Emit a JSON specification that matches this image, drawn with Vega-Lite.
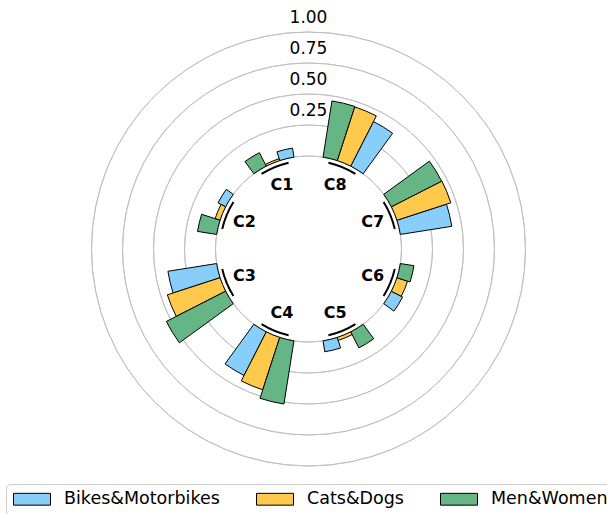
{
  "$schema": "https://vega.github.io/schema/vega-lite/v6.json",
  "width": 617,
  "height": 498,
  "autosize": "none",
  "padding": {"left": 0, "top": 0, "right": 0, "bottom": 16},
  "background": "white",
  "datasets": {
    "bars": [
      {"category": "C1", "series": "Bikes&Motorbikes", "value": 0.074},
      {"category": "C1", "series": "Cats&Dogs", "value": 0.016},
      {"category": "C1", "series": "Men&Women", "value": 0.122},
      {"category": "C2", "series": "Bikes&Motorbikes", "value": 0.069},
      {"category": "C2", "series": "Cats&Dogs", "value": 0.042},
      {"category": "C2", "series": "Men&Women", "value": 0.156},
      {"category": "C3", "series": "Bikes&Motorbikes", "value": 0.398},
      {"category": "C3", "series": "Cats&Dogs", "value": 0.447},
      {"category": "C3", "series": "Men&Women", "value": 0.537},
      {"category": "C4", "series": "Bikes&Motorbikes", "value": 0.395},
      {"category": "C4", "series": "Cats&Dogs", "value": 0.444},
      {"category": "C4", "series": "Men&Women", "value": 0.516},
      {"category": "C5", "series": "Bikes&Motorbikes", "value": 0.089},
      {"category": "C5", "series": "Cats&Dogs", "value": 0.025},
      {"category": "C5", "series": "Men&Women", "value": 0.145},
      {"category": "C6", "series": "Bikes&Motorbikes", "value": 0.102},
      {"category": "C6", "series": "Cats&Dogs", "value": 0.09},
      {"category": "C6", "series": "Men&Women", "value": 0.111},
      {"category": "C7", "series": "Bikes&Motorbikes", "value": 0.42},
      {"category": "C7", "series": "Cats&Dogs", "value": 0.457},
      {"category": "C7", "series": "Men&Women", "value": 0.455},
      {"category": "C8", "series": "Bikes&Motorbikes", "value": 0.404},
      {"category": "C8", "series": "Cats&Dogs", "value": 0.455},
      {"category": "C8", "series": "Men&Women", "value": 0.459}
    ],
    "grid": [
      {"tick": 0},
      {"tick": 0.25},
      {"tick": 0.5},
      {"tick": 0.75},
      {"tick": 1.0}
    ]
  },
  "layer": [
    {
      "data": {"name": "grid"},
      "mark": {"type": "arc", "fill": null, "fillOpacity": 0, "stroke": "#bdbdbd", "strokeWidth": 0.9},
      "encoding": {
        "radius": {"field": "tick", "type": "quantitative", "scale": {"type": "linear", "domain": [0, 1], "range": [93, 217], "zero": false, "nice": false}},
        "radius2": {"field": "tick"},
        "theta": {"value": 0},
        "theta2": {"value": 6.283185307179586}
      }
    },
    {
      "data": {"name": "grid"},
      "transform": [{"filter": "datum.tick > 0"}],
      "mark": {"type": "text", "font": "DejaVu Sans", "fontSize": 17, "dy": -14, "color": "black", "align": "center", "baseline": "middle"},
      "encoding": {
        "radius": {"field": "tick", "type": "quantitative", "scale": {"type": "linear", "domain": [0, 1], "range": [93, 217], "zero": false, "nice": false}},
        "theta": {"value": 0},
        "text": {"field": "tick", "type": "quantitative", "format": ".2f"}
      }
    },
    {
      "data": {"name": "bars"},
      "transform": [{"calculate": "datum.category + '|' + datum.series", "as": "key"}],
      "mark": {"type": "arc", "stroke": "black", "strokeWidth": 1, "opacity": 1},
      "encoding": {
        "theta": {
          "field": "key",
          "type": "nominal",
          "scale": {
            "type": "band",
            "domain": [
              "C8_a", "C8|Men&Women", "C8|Cats&Dogs", "C8|Bikes&Motorbikes", "C8_b",
              "C7_a", "C7|Men&Women", "C7|Cats&Dogs", "C7|Bikes&Motorbikes", "C7_b",
              "C6_a", "C6|Men&Women", "C6|Cats&Dogs", "C6|Bikes&Motorbikes", "C6_b",
              "C5_a", "C5|Men&Women", "C5|Cats&Dogs", "C5|Bikes&Motorbikes", "C5_b",
              "C4_a", "C4|Men&Women", "C4|Cats&Dogs", "C4|Bikes&Motorbikes", "C4_b",
              "C3_a", "C3|Men&Women", "C3|Cats&Dogs", "C3|Bikes&Motorbikes", "C3_b",
              "C2_a", "C2|Men&Women", "C2|Cats&Dogs", "C2|Bikes&Motorbikes", "C2_b",
              "C1_a", "C1|Men&Women", "C1|Cats&Dogs", "C1|Bikes&Motorbikes", "C1_b"
            ],
            "range": [0, 6.283185307179586],
            "paddingInner": 0,
            "paddingOuter": 0
          }
        },
        "radius": {"field": "value", "type": "quantitative", "scale": {"type": "linear", "domain": [0, 1], "range": [93, 217], "zero": false, "nice": false}},
        "radius2": {"datum": 0},
        "color": {
          "field": "series",
          "type": "nominal",
          "scale": {"domain": ["Bikes&Motorbikes", "Cats&Dogs", "Men&Women"], "range": ["#87CEFA", "#FFC94B", "#66B685"]},
          "legend": {
            "title": null,
            "orient": "none",
            "legendX": 6,
            "legendY": 484,
            "direction": "horizontal",
            "symbolType": "M-1,-0.32H1V0.32H-1Z",
            "symbolSize": 1369,
            "symbolStrokeColor": "black",
            "symbolStrokeWidth": 1,
            "symbolOpacity": 1,
            "clipHeight": 16,
            "labelFont": "DejaVu Sans",
            "labelFontSize": 17.5,
            "labelColor": "black",
            "labelOffset": 13,
            "labelLimit": 0,
            "columnPadding": 36,
            "padding": 7,
            "strokeColor": "#cccccc",
            "fillColor": "white",
            "cornerRadius": 4
          }
        }
      }
    },
    {
      "data": {"name": "bars"},
      "transform": [{"aggregate": [{"op": "count", "as": "n"}], "groupby": ["category"]}],
      "mark": {"type": "arc", "color": "black"},
      "encoding": {
        "theta": {
          "field": "category",
          "type": "nominal",
          "scale": {"type": "band", "domain": ["C8", "C7", "C6", "C5", "C4", "C3", "C2", "C1"], "range": [0, 6.283185307179586], "paddingInner": 0.578, "paddingOuter": 0.289}
        },
        "radius": {"datum": -0.028, "type": "quantitative", "scale": {"type": "linear", "domain": [0, 1], "range": [93, 217], "zero": false, "nice": false}},
        "radius2": {"datum": -0.044}
      }
    },
    {
      "data": {"name": "bars"},
      "transform": [{"aggregate": [{"op": "count", "as": "n"}], "groupby": ["category"]}],
      "mark": {"type": "text", "font": "DejaVu Sans", "fontSize": 16, "fontWeight": "bold", "color": "black", "align": "center", "baseline": "middle"},
      "encoding": {
        "theta": {
          "field": "category",
          "type": "nominal",
          "scale": {"type": "point", "domain": ["C8", "C7", "C6", "C5", "C4", "C3", "C2", "C1"], "range": [0, 6.283185307179586], "padding": 0.5}
        },
        "radius": {"datum": -0.19, "type": "quantitative", "scale": {"type": "linear", "domain": [0, 1], "range": [93, 217], "zero": false, "nice": false}},
        "text": {"field": "category", "type": "nominal"}
      }
    }
  ],
  "resolve": {"scale": {"theta": "independent"}},
  "config": {
    "view": {"stroke": null},
    "font": "DejaVu Sans"
  }
}
